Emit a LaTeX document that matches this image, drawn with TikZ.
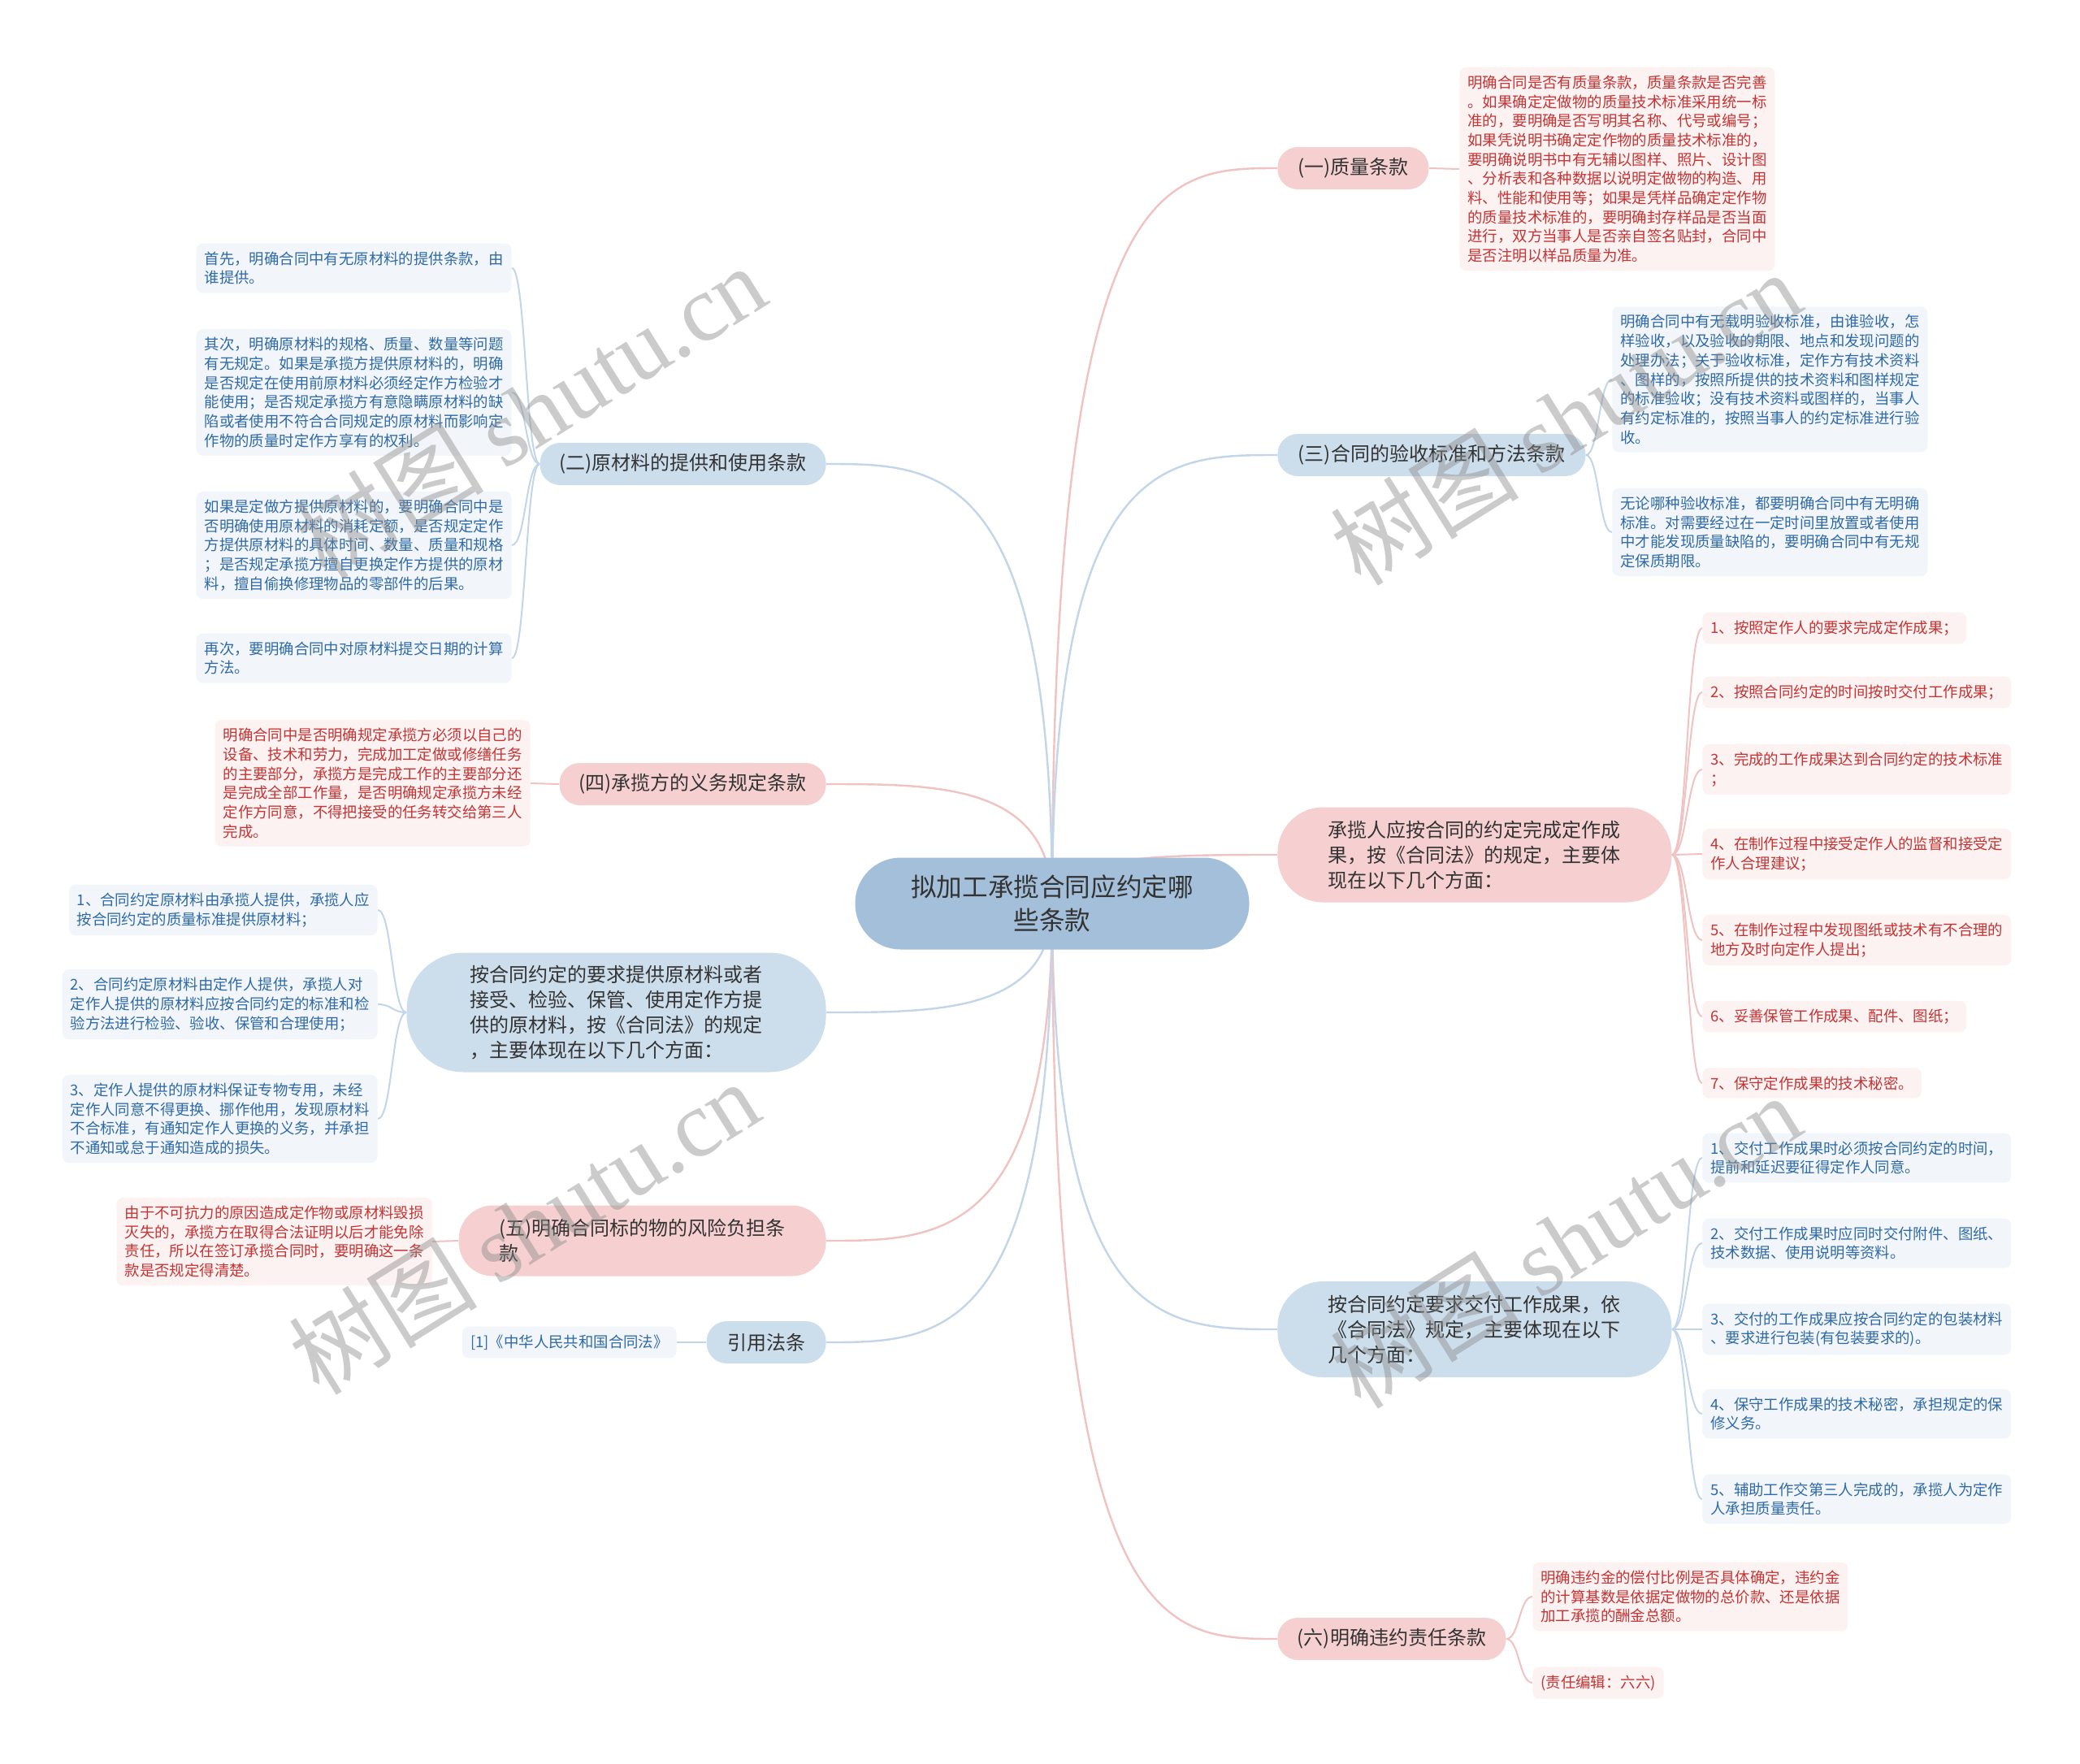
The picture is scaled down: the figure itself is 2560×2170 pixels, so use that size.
\documentclass[tikz,border=0pt]{standalone}
\usepackage{fontspec}
\setmainfont{Noto Sans CJK SC}
\newfontfamily\wmfont{Liberation Serif}
\usetikzlibrary{calc,backgrounds}
\definecolor{cfill}{HTML}{A3BFDA}
\definecolor{bfill}{HTML}{CCDDEC}
\definecolor{pfill}{HTML}{F6D0D0}
\definecolor{bleaf}{HTML}{F2F6FB}
\definecolor{pleaf}{HTML}{FDF2F2}
\definecolor{btext}{HTML}{2F6AA6}
\definecolor{ptext}{HTML}{C43434}
\definecolor{bline}{HTML}{C3D5E8}
\definecolor{pline}{HTML}{F0C2C2}
\definecolor{dtext}{HTML}{333333}
\newcommand\cconn[2]{\draw[#1] (c.center) .. controls (c.center |- #2) and ($(c.center |- #2)!0.5!(#2)$) .. (#2);}
\newcommand\lconn[3]{\draw[#1] let \p1=(#2), \p2=(#3) in (\p1) .. controls ({0.5*\x1+0.5*\x2},\y1) and ({0.5*\x1+0.5*\x2},\y2) .. (\p2);}
\begin{document}
\begin{tikzpicture}[x=0.5pt,y=-0.5pt,
  cnode/.style={fill=cfill,text=dtext,font=\fontsize{15.8}{20.4}\selectfont,align=center,minimum width=242.5pt,minimum height=56.5pt,rounded corners=28pt},
  brb/.style={fill=bfill,text=dtext,font=\fontsize{12}{15.5}\selectfont,minimum height=26pt,inner ysep=2pt,rounded corners=12.5pt,align=left},
  brp/.style={brb,fill=pfill},
  brbm/.style={fill=bfill,text=dtext,font=\fontsize{12}{15.5}\selectfont,align=left},
  brpm/.style={brbm,fill=pfill},
  lfb/.style={fill=bleaf,text=btext,rounded corners=4pt,font=\fontsize{9.2}{11.85}\selectfont,align=left,inner xsep=5pt,inner ysep=5pt},
  lfp/.style={lfb,fill=pleaf,text=ptext},
  lb/.style={draw=bline,line width=1.2pt},
  lp/.style={draw=pline,line width=1.2pt},
  sb/.style={draw=bline,line width=1pt},
  sp/.style={draw=pline,line width=1pt},
  wm/.style={text=black!45,opacity=0.45,font=\fontsize{58}{60}\selectfont,rotate=32}
]
\useasboundingbox (0,0) rectangle (2560,2170);
% center
\node[cnode] (c) at (1295,1112) {拟加工承揽合同应约定哪\\些条款};
% right branches
\node[brp,anchor=west,minimum width=93pt] (q1) at (1572,207) {(一)质量条款};
\node[brb,anchor=west,minimum width=189.5pt] (q3) at (1572,560) {(三)合同的验收标准和方法条款};
\node[brpm,anchor=west,minimum width=242.5pt,minimum height=58.5pt,rounded corners=28pt] (r1) at (1572,1052) {承揽人应按合同的约定完成定作成\\果，按《合同法》的规定，主要体\\现在以下几个方面：};
\node[brbm,anchor=west,minimum width=242.5pt,minimum height=59pt,rounded corners=28pt] (r2) at (1572,1636) {按合同约定要求交付工作成果，依\\《合同法》规定，主要体现在以下\\几个方面：};
\node[brp,anchor=west,minimum width=140.5pt] (q6) at (1572,2017) {(六)明确违约责任条款};
% left branches
\node[brb,anchor=east,minimum width=176pt] (q2) at (1017,571) {(二)原材料的提供和使用条款};
\node[brp,anchor=east,minimum width=164pt] (q4) at (1017,965) {(四)承揽方的义务规定条款};
\node[brbm,anchor=east,minimum width=258pt,minimum height=73.5pt,rounded corners=35pt] (l1) at (1017,1246) {按合同约定的要求提供原材料或者\\接受、检验、保管、使用定作方提\\供的原材料，按《合同法》的规定\\，主要体现在以下几个方面：};
\node[brpm,anchor=east,minimum width=226pt,minimum height=43.5pt,rounded corners=21pt] (q5) at (1017,1527) {(五)明确合同标的物的风险负担条\\款};
\node[brb,anchor=east,minimum width=73.5pt] (yy) at (1017,1652) {引用法条};
% right leaves
\node[lfp,anchor=west] (a1) at (1796,208) {明确合同是否有质量条款，质量条款是否完善\\。如果确定定做物的质量技术标准采用统一标\\准的，要明确是否写明其名称、代号或编号；\\如果凭说明书确定定作物的质量技术标准的，\\要明确说明书中有无辅以图样、照片、设计图\\、分析表和各种数据以说明定做物的构造、用\\料、性能和使用等；如果是凭样品确定定作物\\的质量技术标准的，要明确封存样品是否当面\\进行，双方当事人是否亲自签名贴封，合同中\\是否注明以样品质量为准。};
\node[lfb,anchor=west] (b1) at (1984,467) {明确合同中有无载明验收标准，由谁验收，怎\\样验收，以及验收的期限、地点和发现问题的\\处理办法；关于验收标准，定作方有技术资料\\、图样的，按照所提供的技术资料和图样规定\\的标准验收；没有技术资料或图样的，当事人\\有约定标准的，按照当事人的约定标准进行验\\收。};
\node[lfb,anchor=west] (b2) at (1984,655) {无论哪种验收标准，都要明确合同中有无明确\\标准。对需要经过在一定时间里放置或者使用\\中才能发现质量缺陷的，要明确合同中有无规\\定保质期限。};
\node[lfp,anchor=west] (s1) at (2095,773) {1、按照定作人的要求完成定作成果；};
\node[lfp,anchor=west] (s2) at (2095,852) {2、按照合同约定的时间按时交付工作成果；};
\node[lfp,anchor=west] (s3) at (2095,947) {3、完成的工作成果达到合同约定的技术标准\\；};
\node[lfp,anchor=west] (s4) at (2095,1051) {4、在制作过程中接受定作人的监督和接受定\\作人合理建议；};
\node[lfp,anchor=west] (s5) at (2095,1157) {5、在制作过程中发现图纸或技术有不合理的\\地方及时向定作人提出；};
\node[lfp,anchor=west] (s6) at (2095,1251) {6、妥善保管工作成果、配件、图纸；};
\node[lfp,anchor=west] (s7) at (2095,1333) {7、保守定作成果的技术秘密。};
\node[lfb,anchor=west] (t1) at (2095,1425) {1、交付工作成果时必须按合同约定的时间，\\提前和延迟要征得定作人同意。};
\node[lfb,anchor=west] (t2) at (2095,1530) {2、交付工作成果时应同时交付附件、图纸、\\技术数据、使用说明等资料。};
\node[lfb,anchor=west] (t3) at (2095,1636) {3、交付的工作成果应按合同约定的包装材料\\、要求进行包装(有包装要求的)。};
\node[lfb,anchor=west] (t4) at (2095,1740) {4、保守工作成果的技术秘密，承担规定的保\\修义务。};
\node[lfb,anchor=west] (t5) at (2095,1845) {5、辅助工作交第三人完成的，承揽人为定作\\人承担质量责任。};
\node[lfp,anchor=west] (f1) at (1886,1965) {明确违约金的偿付比例是否具体确定，违约金\\的计算基数是依据定做物的总价款、还是依据\\加工承揽的酬金总额。};
\node[lfp,anchor=west] (f2) at (1886,2071) {(责任编辑：六六)};
% left leaves
\node[lfb,anchor=east] (e1) at (630,330) {首先，明确合同中有无原材料的提供条款，由\\谁提供。};
\node[lfb,anchor=east] (e2) at (630,483) {其次，明确原材料的规格、质量、数量等问题\\有无规定。如果是承揽方提供原材料的，明确\\是否规定在使用前原材料必须经定作方检验才\\能使用；是否规定承揽方有意隐瞒原材料的缺\\陷或者使用不符合合同规定的原材料而影响定\\作物的质量时定作方享有的权利。};
\node[lfb,anchor=east] (e3) at (630,671) {如果是定做方提供原材料的，要明确合同中是\\否明确使用原材料的消耗定额，是否规定定作\\方提供原材料的具体时间、数量、质量和规格\\；是否规定承揽方擅自更换定作方提供的原材\\料，擅自偷换修理物品的零部件的后果。};
\node[lfb,anchor=east] (e4) at (630,810) {再次，要明确合同中对原材料提交日期的计算\\方法。};
\node[lfp,anchor=east] (g1) at (653,964) {明确合同中是否明确规定承揽方必须以自己的\\设备、技术和劳力，完成加工定做或修缮任务\\的主要部分，承揽方是完成工作的主要部分还\\是完成全部工作量，是否明确规定承揽方未经\\定作方同意，不得把接受的任务转交给第三人\\完成。};
\node[lfb,anchor=east] (h1) at (465,1120) {1、合同约定原材料由承揽人提供，承揽人应\\按合同约定的质量标准提供原材料；};
\node[lfb,anchor=east] (h2) at (465,1236) {2、合同约定原材料由定作人提供，承揽人对\\定作人提供的原材料应按合同约定的标准和检\\验方法进行检验、验收、保管和合理使用；};
\node[lfb,anchor=east] (h3) at (465,1377) {3、定作人提供的原材料保证专物专用，未经\\定作人同意不得更换、挪作他用，发现原材料\\不合标准，有通知定作人更换的义务，并承担\\不通知或怠于通知造成的损失。};
\node[lfp,anchor=east] (k1) at (532,1528) {由于不可抗力的原因造成定作物或原材料毁损\\灭失的，承揽方在取得合法证明以后才能免除\\责任，所以在签订承揽合同时，要明确这一条\\款是否规定得清楚。};
\node[lfb,anchor=east] (m1) at (833,1652) {[1]《中华人民共和国合同法》};
% connectors
\begin{scope}[on background layer]
\fill[white] (0,0) rectangle (2560,2170);
\cconn{lp}{q1.west}
\cconn{lb}{q3.west}
\cconn{lp}{r1.west}
\cconn{lb}{r2.west}
\cconn{lp}{q6.west}
\cconn{lb}{q2.east}
\cconn{lp}{q4.east}
\cconn{lb}{l1.east}
\cconn{lp}{q5.east}
\cconn{lb}{yy.east}
\lconn{sp}{q1.east}{a1.west}
\lconn{sb}{q3.east}{b1.west}
\lconn{sb}{q3.east}{b2.west}
\lconn{sp}{r1.east}{s1.west}
\lconn{sp}{r1.east}{s2.west}
\lconn{sp}{r1.east}{s3.west}
\lconn{sp}{r1.east}{s4.west}
\lconn{sp}{r1.east}{s5.west}
\lconn{sp}{r1.east}{s6.west}
\lconn{sp}{r1.east}{s7.west}
\lconn{sb}{r2.east}{t1.west}
\lconn{sb}{r2.east}{t2.west}
\lconn{sb}{r2.east}{t3.west}
\lconn{sb}{r2.east}{t4.west}
\lconn{sb}{r2.east}{t5.west}
\lconn{sp}{q6.east}{f1.west}
\lconn{sp}{q6.east}{f2.west}
\lconn{sb}{q2.west}{e1.east}
\lconn{sb}{q2.west}{e2.east}
\lconn{sb}{q2.west}{e3.east}
\lconn{sb}{q2.west}{e4.east}
\lconn{sp}{q4.west}{g1.east}
\lconn{sb}{l1.west}{h1.east}
\lconn{sb}{l1.west}{h2.east}
\lconn{sb}{l1.west}{h3.east}
\lconn{sp}{q5.west}{k1.east}
\lconn{sb}{yy.west}{m1.east}
\end{scope}
% watermarks
\node[wm] (w1) at (653,506) {树图 {\wmfont shutu.cn}};
\node[wm] (w2) at (1927,514) {树图 {\wmfont shutu.cn}};
\node[wm] (w3) at (645,1510) {树图 {\wmfont shutu.cn}};
\node[wm] (w4) at (1927,1527) {树图 {\wmfont shutu.cn}};
\end{tikzpicture}
\end{document}
